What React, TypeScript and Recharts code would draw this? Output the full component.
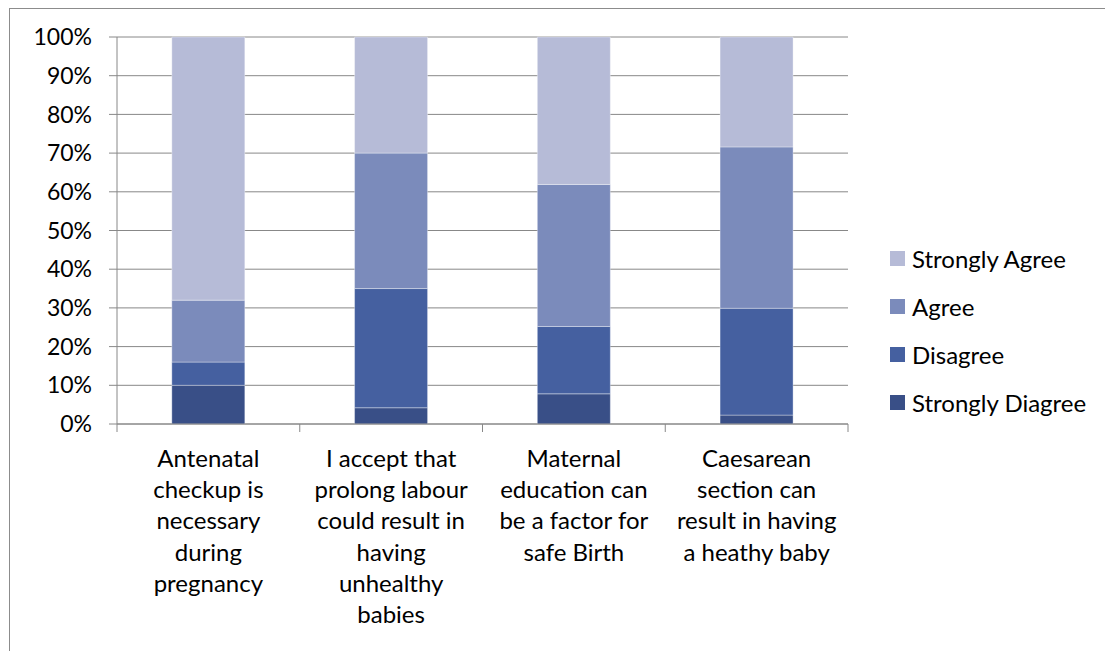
import React from "react";
import { BarChart, Bar, XAxis, YAxis, CartesianGrid } from "recharts";

const categories = [
  "Antenatal\ncheckup is\nnecessary\nduring\npregnancy",
  "I accept that\nprolong labour\ncould result in\nhaving\nunhealthy\nbabies",
  "Maternal\neducation can\nbe a factor for\nsafe Birth",
  "Caesarean\nsection can\nresult in having\na heathy baby",
];
const stronglyDiagree = [10, 4.2, 7.8, 2.3];
const disagree = [6, 30.8, 17.4, 27.6];
const agree = [16, 35, 36.7, 41.7];
const stronglyAgree = [68, 30, 38.1, 28.4];
const yTicks = [0, 10, 20, 30, 40, 50, 60, 70, 80, 90, 100];

const series = [
  { key: "sd", name: "Strongly Diagree", color: "#394F87" },
  { key: "d", name: "Disagree", color: "#4560A0" },
  { key: "a", name: "Agree", color: "#7B8BBB" },
  { key: "sa", name: "Strongly Agree", color: "#B6BBD7" },
];

const data = categories.map((c, i) => ({
  name: c,
  sd: stronglyDiagree[i],
  d: disagree[i],
  a: agree[i],
  sa: stronglyAgree[i],
}));

const FONT = "Lato, 'Open Sans', sans-serif";
const GRID = "#888888";

const CatTick = (props: any) => {
  const { x, y, payload, index, visibleTicksCount } = props;
  const lines = String(payload.value).split("\n");
  const half = payload && typeof payload.offset === "number" ? payload.offset : 0;
  const last = visibleTicksCount ? index === visibleTicksCount - 1 : index === 3;
  return (
    <g>
      <line x1={x - half} x2={x - half} y1={y} y2={y + 8} stroke={GRID} />
      {last && (
        <line x1={x + half} x2={x + half} y1={y} y2={y + 8} stroke={GRID} />
      )}
      <text
        x={x}
        y={y}
        textAnchor="middle"
        fill="#000"
        fontFamily={FONT}
        fontSize={24}
      >
        {lines.map((l, i) => (
          <tspan key={i} x={x} dy={i === 0 ? 43 : 31.2}>
            {l}
          </tspan>
        ))}
      </text>
    </g>
  );
};

const LegendBox = () => {
  const items = [...series].reverse();
  return (
    <div
      style={{
        position: "absolute",
        left: 890,
        top: 234,
        width: 215,
        fontFamily: FONT,
        fontSize: 24,
        color: "#000",
      }}
    >
      {items.map((s) => (
        <div
          key={s.key}
          style={{ display: "flex", alignItems: "center", height: 48 }}
        >
          <div
            style={{
              width: 15,
              height: 15,
              background: s.color,
              marginRight: 7,
              flex: "none",
            }}
          />
          <span style={{ whiteSpace: "nowrap" }}>{s.name}</span>
        </div>
      ))}
    </div>
  );
};

export default function App() {
  return (
    <div
      style={{
        position: "absolute",
        left: 0,
        top: 0,
        width: 1105,
        height: 651,
        background: "#fff",
        overflow: "hidden",
      }}
    >
      <div
        style={{
          position: "absolute",
          left: 9,
          top: 8,
          width: 1200,
          height: 800,
          borderLeft: "1px solid #8c8c8c",
          borderTop: "1px solid #8c8c8c",
        }}
      />
      <div style={{ position: "absolute", left: 0, top: 0 }}>
        <BarChart
          width={1105}
          height={651}
          data={data}
          margin={{ top: 37, right: 257, left: 0, bottom: 0 }}
          barCategoryGap="30%"
        >
          <CartesianGrid
            vertical={false}
            stroke={GRID}
            strokeDasharray=""
          />
          <XAxis
            dataKey="name"
            interval={0}
            height={227}
            tick={<CatTick />}
            tickLine={false}
            tickSize={0}
            tickMargin={0}
            axisLine={{ stroke: GRID }}
          />
          <YAxis
            width={117}
            domain={[0, 100]}
            ticks={yTicks}
            interval={0}
            tickFormatter={(v: number) => `${v}%`}
            axisLine={{ stroke: GRID }}
            tickLine={{ stroke: GRID }}
            tickSize={8}
            tickMargin={17}
            tick={{ fill: "#000", fontFamily: FONT, fontSize: 23 }}
          />
          {series.map((s) => (
            <Bar
              key={s.key}
              dataKey={s.key}
              name={s.name}
              stackId="s"
              fill={s.color}
              stroke="#ffffff"
              strokeOpacity={0.35}
              strokeWidth={1}
              isAnimationActive={false}
            />
          ))}
        </BarChart>
      </div>
      <LegendBox />
    </div>
  );
}
